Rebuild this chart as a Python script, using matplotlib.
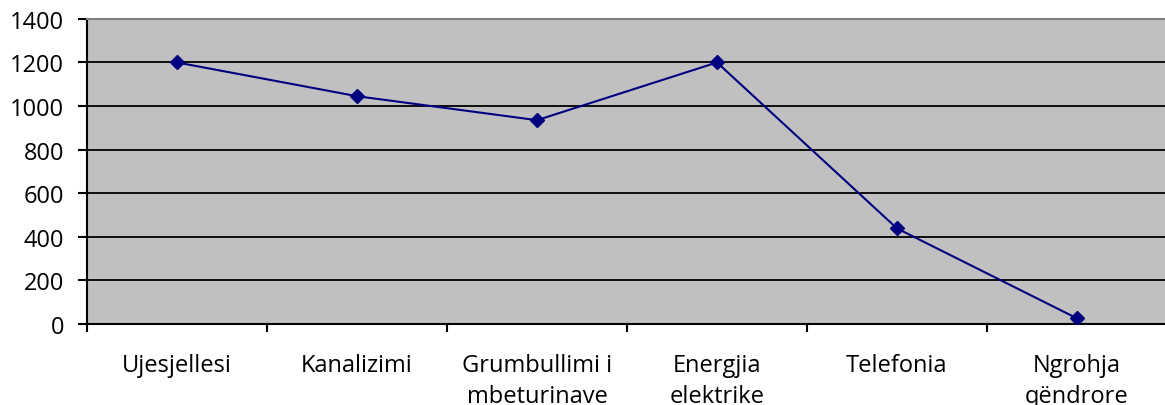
import matplotlib.pyplot as plt
import numpy as np

categories = ['Ujesjellesi', 'Kanalizimi', 'Grumbullimi i\nmbeturinave',
              'Energjia\nelektrike', 'Telefonia', 'Ngrohja\nqëndrore']
values = [1200, 1045, 935, 1200, 438, 25]
yticks = [0, 200, 400, 600, 800, 1000, 1200, 1400]

plt.rcParams['font.family'] = ['Open Sans', 'DejaVu Sans']

fig = plt.figure(figsize=(11.65, 4.06), dpi=100)
ax = fig.add_axes([0.0747, 0.2, 0.9270, 0.751])
ax.set_facecolor('#C0C0C0')

x = np.arange(len(categories))
ax.plot(x, values, color='#000080', linewidth=1.5, marker='D', markersize=7,
        markerfacecolor='#000080', markeredgecolor='#000080', zorder=3)

ax.set_xlim(-0.5, len(categories) - 0.5)
ax.set_ylim(0, 1400)
ax.set_yticks(yticks)
ax.set_yticklabels([str(v) for v in yticks], fontsize=17)

for v in yticks[1:-1]:
    ax.axhline(v, color='black', linewidth=1.3, zorder=1)

# category labels at centers, tick marks at category boundaries
ax.set_xticks(x)
ax.set_xticklabels(categories, fontsize=17, linespacing=1.4)
ax.tick_params(axis='x', which='major', length=0, pad=21)
ax.set_xticks(np.arange(-0.5, len(categories)), minor=True)
ax.tick_params(axis='x', which='minor', length=6, width=1.5, color='black', direction='out')
ax.tick_params(axis='y', length=6.5, width=1.5, color='black', pad=10)

ax.spines['top'].set_color('#808080')
ax.spines['top'].set_linewidth(1.5)
ax.spines['right'].set_visible(False)
ax.spines['left'].set_linewidth(1.5)
ax.spines['bottom'].set_linewidth(1.5)

fig.savefig('out.png', dpi=100)
